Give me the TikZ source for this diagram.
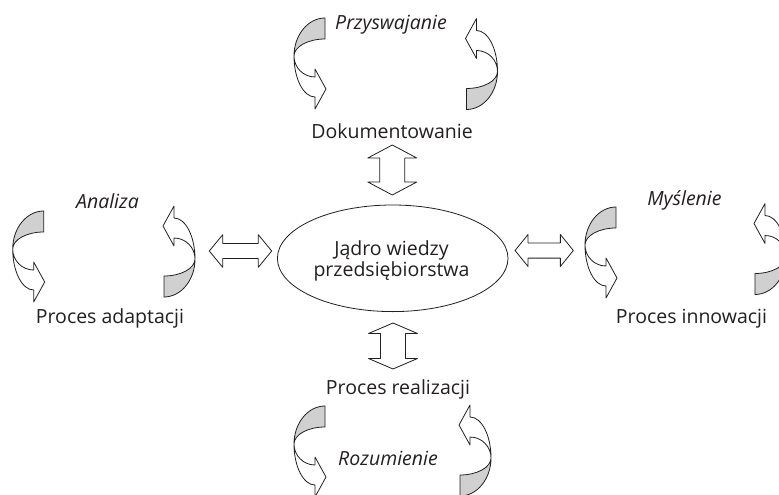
\documentclass[tikz,border=0pt]{standalone}
\usepackage{fontspec}
\setmainfont{Open Sans}
\usetikzlibrary{shapes.geometric}
\definecolor{bandgray}{RGB}{208,208,208}
\definecolor{ink}{RGB}{35,31,32}
\tikzset{
  outline/.style={draw=ink, line width=0.8pt, line join=round},
  lbl/.style={text=ink, inner sep=0pt, font=\fontsize{19.5}{21.7}\selectfont},
  ilbl/.style={lbl, font=\fontsize{19.5}{21.7}\selectfont\itshape},
  pics/cyclearrow/.style={code={
    \fill[bandgray] (31,-38) .. controls (14,-38) and (0,-21) .. (0,0)
      .. controls (0,-9.4) and (14,-17) .. (31,-17) -- cycle;
    \path[outline] (31,-38) .. controls (14,-38) and (0,-21) .. (0,0)
      .. controls (0,22.6) and (9.4,41) .. (21,41) -- (21,53) -- (32,33) -- (21,13) -- (21,21)
      .. controls (9.4,21) and (0,11.6) .. (0,0)
      .. controls (0,-9.4) and (14,-17) .. (31,-17) -- cycle;
  }},
  pics/dblarrow/.style n args={4}{code={
    \path[outline, fill=white] ({-#1/2},0) -- ({-#1/2+#4},#2) -- ({-#1/2+#4},#3) -- ({#1/2-#4},#3)
      -- ({#1/2-#4},#2) -- ({#1/2},0) -- ({#1/2-#4},{-#2}) -- ({#1/2-#4},{-#3})
      -- ({-#1/2+#4},{-#3}) -- ({-#1/2+#4},{-#2}) -- cycle;
  }}
}
\begin{document}
\begin{tikzpicture}[x=1pt,y=-1pt]
\useasboundingbox (0,0) rectangle (779,495);
\clip (0,0) rectangle (779,495);
\fill[white] (0,0) rectangle (779,495);

% central node
\node[ellipse, outline, minimum width=230.6pt, minimum height=106.6pt, inner sep=0pt] (core) at (392.7,258.3) {};
\node[lbl, align=center] (coretext) at (391.5,261) {Jądro wiedzy\\przedsiębiorstwa};

% process labels
\node[lbl] (dok) at (392,131) {Dokumentowanie};
\node[lbl] (real) at (398,389) {Proces realizacji};
\node[lbl] (adapt) at (110,318) {Proces adaptacji};
\node[lbl] (innow) at (691.5,319) {Proces innowacji};

% cycle labels
\node[ilbl] (przysw) at (391,25) {Przyswajanie};
\node[ilbl] (rozum) at (388,458) {Rozumienie};
\node[ilbl] (anal) at (107.5,201) {Analiza};
\node[ilbl] (mysl) at (684.5,200) {Myślenie};

% double arrows between the core and the processes
\coordinate (up) at (392.3,170);
\coordinate (down) at (393,346);
\coordinate (left) at (240.5,251);
\coordinate (right) at (544.2,250.5);
\pic[rotate=90] at (up) {dblarrow={50}{24.5}{12.5}{13}};
\pic[rotate=90] at (down) {dblarrow={46}{24.5}{12.5}{10.5}};
\pic at (left) {dblarrow={62.4}{16.3}{7.5}{13.4}};
\pic at (right) {dblarrow={58.3}{16}{7.6}{13}};

% cycles of curved arrows
\coordinate (c1a) at (294,56);    \coordinate (c1b) at (497.5,71.5);
\coordinate (c2a) at (12.7,249);  \coordinate (c2b) at (195,259);
\coordinate (c3a) at (585,245);   \coordinate (c3b) at (786,256.5);
\coordinate (c4a) at (294,444);   \coordinate (c4b) at (491,458);
\pic at (c1a) {cyclearrow};  \pic[rotate=180] at (c1b) {cyclearrow};
\pic at (c2a) {cyclearrow};  \pic[rotate=180] at (c2b) {cyclearrow};
\pic at (c3a) {cyclearrow};  \pic[rotate=180] at (c3b) {cyclearrow};
\pic at (c4a) {cyclearrow};  \pic[rotate=180] at (c4b) {cyclearrow};
\end{tikzpicture}
\end{document}
